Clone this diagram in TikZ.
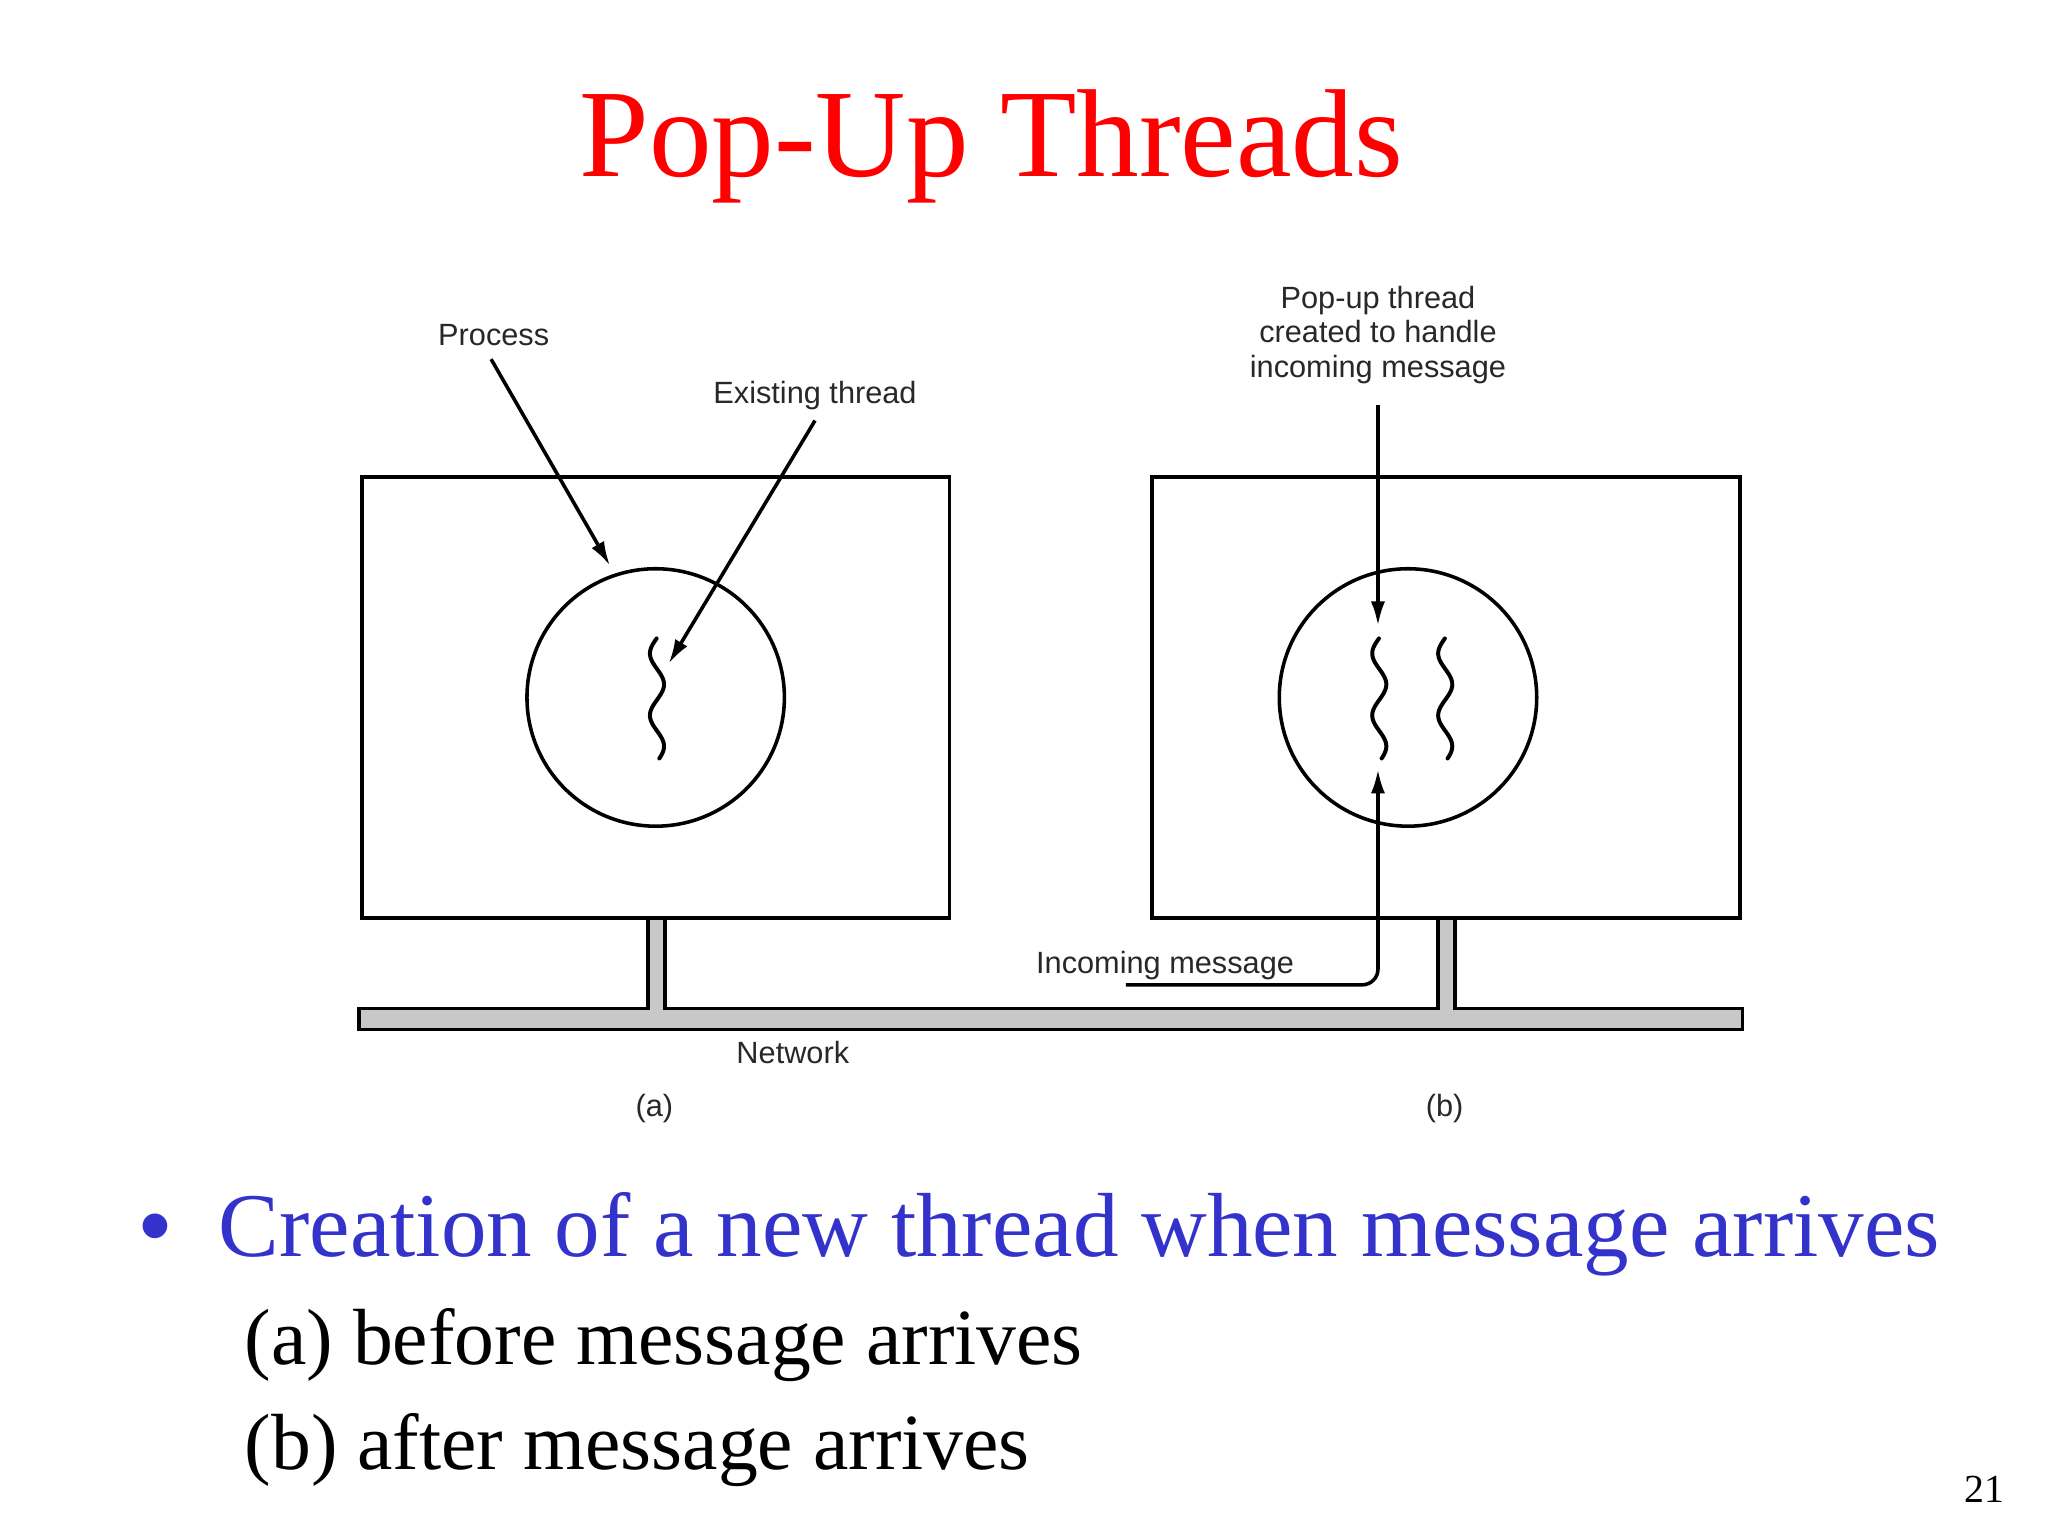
\documentclass[tikz,border=0pt]{standalone}
\usepackage{fontspec}
\setmainfont{Liberation Serif}
\newfontfamily\labelfont{Liberation Sans}
\usetikzlibrary{arrows.meta}
\definecolor{titlered}{RGB}{255,0,0}
\definecolor{bulletblue}{RGB}{51,51,204}
\definecolor{netgray}{RGB}{200,200,200}
\definecolor{labelgray}{RGB}{40,40,40}
\tikzset{
  lbl/.style={font=\labelfont\fontsize{10.8bp}{12.2bp}\selectfont, inner sep=0pt, text=labelgray},
  frame/.style={draw, line width=1.25bp, inner sep=0pt, minimum width=206.6bp, minimum height=155.2bp},
  proc/.style={draw, circle, line width=1.25bp, inner sep=0pt, minimum size=90.5bp},
  arr/.style={line width=1.25bp, -{Latex[length=8.5bp,width=5bp]}},
  squig/.style={line width=1.4bp, line cap=round},
  net/.style={line width=1.2bp, line join=miter},
}
\begin{document}
\begin{tikzpicture}[x=0.459184bp, y=-0.459184bp]
\useasboundingbox (0,0) rectangle (1568,1176);
\fill[white] (0,0) rectangle (1568,1176);

% title
\node[anchor=base, text=titlered, inner sep=0pt, font=\fontsize{44bp}{50bp}\selectfont] (title) at (759,135) {Pop-Up Threads};

% network
\fill[netgray] (275,772) rectangle (1334,788);
\fill[netgray] (496,703) rectangle (509,773);
\fill[netgray] (1101,703) rectangle (1114,773);
\draw[net] (496,703) -- (496,772) -- (275,772) -- (275,788) -- (1334,788) -- (1334,772) -- (1114,772) -- (1114,703);
\draw[net] (509,703) -- (509,772) -- (1101,772) -- (1101,703);

% boxes and processes
\node[frame] (boxa) at (502,534) {};
\node[frame] (boxb) at (1107,534) {};
\node[proc] (proca) at (502,534) {};
\node[proc] (procb) at (1078,534) {};

% threads (squiggles)
\draw[squig] plot[domain=488.8:580.7, samples=60, smooth, variable=\t] ({503 - 5.4*cos(180*(\t-500.3)/23.7)}, \t);
\draw[squig] plot[domain=488.8:580.7, samples=60, smooth, variable=\t] ({1056 - 5.4*cos(180*(\t-500.3)/23.7)}, \t);
\draw[squig] plot[domain=488.8:580.7, samples=60, smooth, variable=\t] ({1106.5 - 5.4*cos(180*(\t-500.3)/23.7)}, \t);

% labels
\node[lbl, anchor=base] (lproc) at (378,264.5) {Process};
\node[lbl, anchor=base] (lexist) at (624,309) {Existing thread};
\node[lbl, anchor=base] (lpop1) at (1055,236) {Pop-up thread};
\node[lbl, anchor=base] (lpop2) at (1055,262.5) {created to handle};
\node[lbl, anchor=base] (lpop3) at (1055,289) {incoming message};
\node[lbl, anchor=base] (linc) at (892,745) {Incoming message};
\node[lbl, anchor=base] (lnet) at (607,814) {Network};
\node[lbl, anchor=center] (la) at (501,849) {(a)};
\node[lbl, anchor=center] (lb) at (1106,849) {(b)};

% arrow end points
\coordinate (pstart) at (376,275);
\coordinate (ptip) at (467,433);
\coordinate (estart) at (624,322);
\coordinate (etip) at (512,508);
\coordinate (dstart) at (1055,310);
\coordinate (dtip) at (1055,479);
\coordinate (istart) at (862,754);
\coordinate (icorner) at (1055,754);
\coordinate (itip) at (1055,589);

\draw[arr] (pstart) -- (ptip);
\draw[arr] (estart) -- (etip);
\draw[arr] (dstart) -- (dtip);
\draw[arr, rounded corners=5.5bp] (istart) -- (icorner) -- (itip);

% bullet text
\node[anchor=base, inner sep=0pt, text=bulletblue, font=\labelfont\fontsize{32bp}{38bp}\selectfont] (bul) at (119,962) {•};
\node[anchor=base west, inner sep=0pt, text=bulletblue, font=\fontsize{32bp}{38bp}\selectfont] (btext) at (167,962) {Creation of a new thread when message arrives};
\node[anchor=base west, inner sep=0pt, font=\fontsize{28bp}{34bp}\selectfont] (suba) at (187,1045) {(a) before message arrives};
\node[anchor=base west, inner sep=0pt, font=\fontsize{28bp}{34bp}\selectfont] (subb) at (187,1125) {(b) after message arrives};
\node[anchor=base east, inner sep=0pt, font=\fontsize{14bp}{17bp}\selectfont] (pnum) at (1535,1150) {21};
\end{tikzpicture}
\end{document}
